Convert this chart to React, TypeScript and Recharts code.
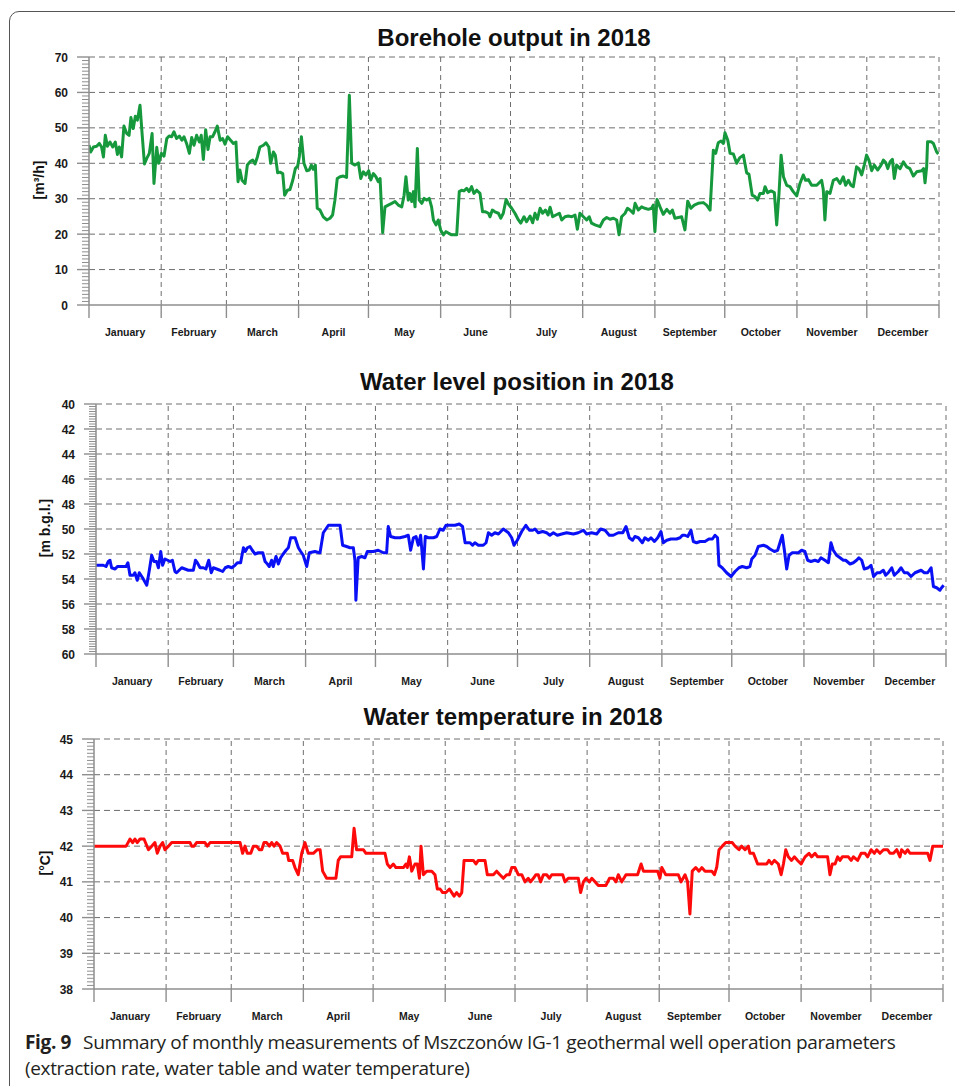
import React from 'react';
import { LineChart, Line, XAxis, YAxis, ReferenceLine } from 'recharts';

// months of 2018, x axis runs in day-of-year
const months = ['January', 'February', 'March', 'April', 'May', 'June', 'July', 'August', 'September', 'October', 'November', 'December'];
const monthStarts = [0, 31, 59, 90, 120, 151, 181, 212, 243, 273, 304, 334, 365];
const monthMids = months.map((_, i) => (monthStarts[i] + monthStarts[i + 1]) / 2);

const outputMajor = [0, 10, 20, 30, 40, 50, 60, 70];
const levelMajor = [40, 42, 44, 46, 48, 50, 52, 54, 56, 58, 60];
const tempMajor = [38, 39, 40, 41, 42, 43, 44, 45];

// [day of year, m3/h]
const boreholeOutput: [number, number][] = [
  [0, 45.1], [0.7, 43.2], [1.9, 44.6], [3.3, 44.8], [4.4, 45.6], [5.4, 44.6], [6.2, 41.8], [7.0, 47.9], [7.9, 44.8], [9.0, 46.0],
  [10.2, 44.6], [11.3, 46.0], [12.2, 42.5], [13.0, 44.6], [14.0, 41.8], [15.0, 50.5], [16.2, 48.4], [17.2, 47.9], [18.0, 52.9], [19.0, 49.8],
  [19.9, 53.3], [20.8, 52.2], [21.9, 56.4], [22.8, 48.4], [23.8, 39.8], [24.8, 41.4], [25.9, 42.8], [27.1, 48.4], [27.9, 34.3], [29.1, 44.5],
  [29.9, 40.0], [31.1, 42.8], [32.2, 42.0], [33.4, 47.0], [34.4, 47.7], [35.5, 47.5], [36.5, 48.9], [37.6, 47.0], [38.8, 47.7], [39.9, 46.5],
  [40.8, 47.5], [41.9, 45.6], [43.1, 42.8], [44.1, 47.3], [45.1, 45.1], [46.2, 47.9], [47.4, 46.0], [48.2, 47.9], [49.1, 41.1], [50.1, 49.5],
  [51.1, 43.9], [52.0, 47.5], [53.1, 47.5], [54.1, 48.9], [55.1, 50.5], [56.3, 46.5], [57.4, 47.0], [58.4, 45.4], [59.5, 47.5], [60.8, 46.5],
  [62.0, 45.6], [63.1, 46.0], [64.0, 34.8], [64.8, 38.1], [65.7, 35.2], [67.0, 34.3], [68.0, 39.5], [69.1, 40.4], [70.3, 40.9], [71.3, 39.8],
  [72.3, 41.8], [73.4, 44.6], [74.9, 45.1], [76.0, 45.8], [77.2, 44.6], [78.0, 40.0], [79.2, 43.2], [80.0, 42.3], [81.0, 37.3], [82.0, 37.5],
  [83.2, 37.1], [84.0, 31.0], [85.2, 32.4], [86.3, 32.6], [87.5, 35.2], [88.6, 38.5], [89.6, 39.2], [90.3, 41.8], [91.2, 47.5], [92.3, 40.0],
  [93.5, 37.9], [94.6, 38.1], [95.5, 39.5], [96.3, 38.3], [97.2, 39.5], [98.0, 27.3],
  [99.2, 26.8], [100.6, 24.9], [102.1, 24.0], [103.5, 24.5], [104.6, 25.4], [105.6, 29.6], [106.6, 35.7], [107.8, 36.2], [109.2, 36.4], [110.6, 36.0],
  [111.8, 59.2], [112.8, 40.0], [114.2, 39.5], [115.7, 40.1], [116.7, 35.7], [117.8, 37.6], [118.9, 36.7], [120.1, 37.9], [121.0, 35.3], [122.1, 37.1],
  [123.2, 36.2], [124.2, 34.8], [125.0, 35.7], [125.7, 25.9], [126.1, 20.4], [127.1, 27.7], [128.5, 28.2], [130.0, 28.7], [131.4, 29.2], [132.8, 28.2],
  [134.3, 27.7], [135.3, 31.0], [136.1, 36.2], [137.1, 29.6], [137.8, 31.5], [138.6, 29.2], [139.3, 32.0], [140.0, 27.7], [141.0, 44.2], [141.8, 29.6],
  [142.9, 28.7], [143.9, 30.1], [145.0, 29.6], [146.1, 30.1], [147.1, 27.7], [147.9, 24.0], [149.0, 22.6], [150.0, 24.0], [151.0, 21.2], [152.2, 19.8],
  [153.3, 20.7], [154.3, 20.3], [155.7, 19.8], [157.9, 19.8], [159.0, 32.0], [160.0, 32.4], [161.0, 32.2], [162.2, 32.9], [163.2, 32.0], [164.3, 33.4],
  [165.3, 31.5], [166.5, 32.4], [167.9, 31.5], [169.0, 26.3], [170.3, 26.3], [171.5, 25.9], [172.2, 24.9], [173.2, 26.8], [174.3, 26.3], [175.8, 25.9],
  [176.8, 24.5], [177.9, 25.9], [179.1, 29.8], [180.1, 28.5], [181.5, 27.3], [182.9, 25.9], [184.4, 24.0], [185.4, 23.1], [186.8, 24.9], [187.9, 23.5],
  [189.4, 25.1], [190.5, 23.2], [191.5, 25.9], [192.5, 24.2], [193.7, 27.3], [194.8, 25.9], [196.0, 26.8], [197.1, 25.4], [198.0, 27.6], [199.1, 24.9],
  [200.5, 25.4], [202.0, 25.9], [203.0, 24.0], [204.4, 24.9], [205.8, 25.1], [207.3, 24.9], [208.7, 25.4], [209.7, 21.4], [210.8, 25.9], [212.3, 24.9],
  [213.7, 24.0], [214.8, 24.9], [215.8, 23.1], [217.3, 22.6], [219.4, 22.1], [220.9, 24.0], [222.3, 24.7], [223.7, 24.2], [225.2, 24.5], [226.6, 24.0],
  [227.6, 19.8], [228.7, 24.9], [230.2, 25.9], [231.2, 27.3], [232.3, 26.8], [233.7, 25.9],
  [234.5, 28.7], [235.9, 26.8], [237.3, 27.7], [238.7, 27.3], [240.2, 27.0], [241.6, 27.3], [242.3, 28.2], [243.0, 20.7], [243.9, 29.8], [245.2, 27.7],
  [246.6, 25.6], [248.1, 27.0], [249.5, 25.9], [250.5, 26.8], [251.6, 24.5], [253.1, 24.7], [254.5, 24.9], [255.9, 21.2], [257.1, 29.3], [258.5, 27.3],
  [259.9, 28.2], [261.6, 28.7], [263.8, 28.9], [265.2, 28.2], [266.7, 26.8], [268.1, 43.7], [269.1, 42.8], [270.2, 45.8], [271.4, 46.3], [272.4, 45.6],
  [273.1, 48.6], [274.3, 46.5], [275.3, 42.8], [276.7, 42.6], [278.1, 40.0], [279.5, 41.6], [281.0, 42.3], [282.4, 37.3], [283.4, 36.9], [284.8, 31.0],
  [286.0, 30.6], [287.1, 29.6], [288.1, 31.5], [289.6, 31.5], [290.3, 33.4], [291.4, 31.7], [292.9, 32.2], [294.3, 31.7], [295.3, 22.6], [296.3, 31.5],
  [297.2, 42.3], [298.2, 36.2], [299.6, 33.8], [301.0, 33.4], [302.4, 32.0], [303.9, 30.8], [305.3, 34.3], [306.7, 36.7], [307.7, 35.2], [308.9, 35.4],
  [310.3, 33.8], [312.5, 33.8], [314.6, 35.2], [315.3, 32.6], [316.0, 24.0], [316.8, 32.0], [318.2, 31.5], [319.6, 35.2], [321.1, 35.7], [322.5, 34.3],
  [323.9, 36.2], [324.9, 33.8], [326.1, 35.2], [327.2, 33.8], [328.2, 33.4], [329.6, 39.0], [330.6, 38.5], [331.8, 36.7], [332.9, 39.5], [333.9, 42.3],
  [334.9, 40.9], [336.1, 37.9], [337.2, 39.5], [338.7, 38.1], [340.1, 39.5], [341.1, 40.9], [342.1, 40.2], [343.0, 38.5], [344.0, 40.4], [345.0, 41.1],
  [345.8, 35.7], [346.8, 39.5], [348.3, 38.5], [349.7, 40.4], [351.1, 39.0], [352.5, 38.5], [354.0, 36.4], [355.4, 37.6], [357.6, 37.9], [358.4, 38.5],
  [359.0, 34.5], [359.7, 39.0], [360.1, 46.1], [361.6, 46.1], [362.6, 45.6], [364.0, 43.2], [364.7, 42.6],
];

// [day of year, m below ground level]
const waterLevel: [number, number][] = [
  [0, 52.9], [1.7, 52.9], [3.1, 52.9], [4.3, 53.0], [5.3, 52.6], [6.0, 52.5], [6.7, 53.1], [8.2, 53.2], [9.2, 53.0], [11.0, 53.0],
  [12.9, 53.0], [13.7, 52.7], [14.6, 53.7], [16.0, 53.7], [16.7, 53.5], [17.7, 54.1], [18.6, 53.5], [20.0, 53.9], [21.8, 54.5], [22.9, 53.3],
  [23.9, 52.1], [24.9, 52.6], [26.0, 52.6], [26.8, 53.1], [27.8, 51.8], [28.6, 52.9], [29.6, 52.4], [30.8, 52.5], [31.8, 52.6], [32.8, 52.5],
  [33.9, 53.4], [34.6, 53.5], [36.8, 53.1], [38.2, 53.2], [39.6, 53.3], [41.1, 53.3], [41.8, 53.3], [42.7, 52.5], [43.5, 52.7], [44.7, 53.1],
  [46.1, 53.1], [47.2, 53.2], [48.4, 52.5], [49.5, 53.5], [50.4, 53.1], [51.8, 53.2], [53.2, 53.3], [54.4, 53.4], [55.5, 53.1], [56.8, 53.0],
  [58.3, 53.1], [59.7, 52.9], [60.7, 52.7], [62.1, 52.7], [63.3, 51.5], [64.1, 51.8], [65.0, 51.5], [66.1, 51.4], [67.1, 51.7], [68.3, 52.0],
  [69.7, 51.9], [71.6, 51.9], [72.6, 52.6], [73.6, 52.8], [74.4, 53.0], [75.4, 52.5], [76.1, 53.0], [77.3, 52.2], [78.3, 52.8], [79.3, 52.3],
  [80.4, 52.0], [81.6, 51.7], [82.6, 51.5], [83.6, 50.7], [85.5, 50.7], [86.9, 51.5], [87.9, 51.8], [89.0, 52.1], [90.5, 53.0], [91.6, 51.9],
  [94.0, 51.8], [95.9, 51.9],
  [96.2, 51.9], [97.6, 50.3], [99.8, 49.7], [101.9, 49.7], [104.8, 49.7], [105.9, 51.3], [107.6, 51.4], [109.1, 51.5], [110.5, 51.5], [111.2, 52.5],
  [111.6, 55.7], [112.6, 52.3], [114.1, 52.2], [115.5, 52.3], [116.5, 51.8], [119.1, 51.8], [121.2, 51.7], [123.4, 51.9], [124.8, 51.9], [125.5, 49.8],
  [126.5, 50.6], [128.4, 50.7], [130.5, 50.7], [132.7, 50.6], [134.1, 50.5], [135.1, 51.7], [136.3, 50.7], [137.4, 50.6], [138.4, 51.3], [139.4, 50.5],
  [140.6, 53.2], [141.4, 50.6], [142.7, 50.7], [144.9, 50.7], [146.3, 50.6], [147.7, 50.0], [149.1, 50.1], [150.3, 49.7], [152.7, 49.7], [154.2, 49.7],
  [156.0, 49.6], [157.4, 49.8], [158.5, 51.1], [160.6, 51.1], [161.7, 51.3], [162.7, 51.1], [164.2, 51.3], [166.3, 51.3], [167.5, 51.1], [168.5, 50.3],
  [169.9, 50.5], [171.3, 50.3], [172.8, 50.4], [174.9, 50.0], [177.1, 50.3], [178.5, 50.7], [179.5, 51.3], [180.9, 50.9], [182.8, 50.2], [184.6, 49.7],
  [186.1, 50.1], [187.5, 50.1], [188.5, 50.0], [189.9, 50.3], [191.8, 50.2], [193.5, 50.3], [194.9, 50.5], [196.4, 50.3], [198.1, 50.5], [200.0, 50.4],
  [202.1, 50.3], [205.0, 50.4], [207.1, 50.3], [209.3, 50.1], [210.7, 50.4], [212.8, 50.3], [215.0, 50.4], [216.7, 50.0], [218.6, 50.1], [220.4, 50.5],
  [222.1, 50.5], [224.3, 50.3], [226.2, 50.3], [227.6, 49.8], [229.0, 50.7], [230.4, 50.9],
  [231.4, 50.6], [232.9, 50.7], [234.6, 51.1], [235.7, 50.7], [237.2, 50.9], [238.3, 50.7], [239.8, 51.0], [241.2, 50.7], [242.6, 50.2], [243.6, 51.1],
  [245.1, 50.9], [246.9, 50.8], [249.3, 50.8], [250.8, 50.7], [251.8, 50.5], [252.9, 50.5], [254.1, 50.6], [255.5, 50.1], [256.5, 51.0], [257.9, 51.1],
  [259.4, 51.0], [261.5, 51.0], [263.2, 50.8], [264.7, 50.8], [265.8, 50.5], [266.9, 50.7], [267.5, 52.9], [268.9, 53.1], [270.8, 53.5], [272.7, 53.8],
  [274.4, 53.4], [276.1, 53.1], [277.5, 53.0], [279.4, 53.1], [280.8, 53.0], [281.6, 52.4], [283.0, 52.1], [284.4, 51.4], [286.6, 51.3], [288.0, 51.4],
  [289.4, 51.6], [291.3, 51.8], [292.7, 51.7], [293.7, 51.1], [294.7, 50.5], [295.6, 51.7], [296.6, 53.2], [297.6, 52.1], [299.0, 51.9], [301.6, 51.9],
  [303.0, 51.7], [304.4, 51.8], [305.6, 52.5], [307.0, 52.6], [308.7, 52.5], [310.2, 52.6], [311.3, 52.3], [313.0, 52.5], [314.5, 52.7], [315.6, 51.1],
  [316.6, 51.7], [318.0, 52.1], [319.5, 52.3], [320.9, 52.5], [321.9, 52.5], [323.8, 52.8], [325.2, 52.7], [326.6, 52.5], [327.6, 52.3], [328.8, 52.5],
  [329.9, 53.2], [331.6, 53.1], [332.8, 52.9], [333.9, 53.8], [335.4, 53.5], [336.6, 53.5], [338.1, 53.3], [339.1, 53.7], [340.2, 53.5], [341.7, 53.1],
  [342.8, 53.7], [344.5, 53.4], [345.7, 53.1], [347.1, 53.5], [348.5, 53.5], [350.0, 53.8], [351.7, 53.5], [354.3, 53.3], [355.7, 53.5], [357.1, 53.5],
  [358.6, 53.1], [359.6, 54.6], [361.0, 54.7], [362.4, 54.9], [363.1, 54.7], [364.0, 54.5],
];

// [day of year, degrees C]
const waterTemp: [number, number][] = [
  [0, 42.0], [13.8, 42.0], [15.5, 42.2], [16.6, 42.1], [17.6, 42.2], [18.6, 42.1], [19.8, 42.2], [21.5, 42.2], [23.4, 41.9], [24.8, 42.0],
  [26.2, 42.1], [27.2, 41.8], [28.4, 42.0], [29.5, 42.1], [30.5, 41.9], [32.0, 42.0], [33.4, 42.1], [41.3, 42.1], [42.0, 42.0], [43.0, 42.0],
  [44.1, 42.1], [47.7, 42.1], [48.7, 42.0], [49.9, 42.1], [62.8, 42.1], [63.9, 41.8], [64.9, 42.0], [65.9, 41.8], [67.4, 41.8], [68.5, 42.0],
  [69.9, 42.0], [71.1, 41.9], [72.1, 41.9], [73.1, 42.1], [74.2, 42.1], [75.4, 42.0], [76.4, 42.1], [77.4, 42.0], [78.5, 42.1], [80.0, 42.0],
  [81.1, 41.8], [82.3, 41.8], [83.1, 41.8], [83.7, 41.6], [85.4, 41.6], [86.4, 41.4], [87.8, 41.2], [89.3, 41.8], [90.7, 42.1], [92.1, 41.8],
  [94.3, 41.8], [96.0, 41.9],
  [97.2, 41.9], [98.3, 41.3], [100.0, 41.1], [104.0, 41.1], [105.0, 41.6], [106.0, 41.7], [110.8, 41.7], [111.8, 42.5], [112.9, 41.9], [115.8, 41.9],
  [116.9, 41.8], [125.1, 41.8], [126.1, 41.5], [127.3, 41.4], [128.7, 41.5], [129.8, 41.4], [133.0, 41.4], [134.1, 41.5], [134.7, 41.4], [135.6, 41.7],
  [136.6, 41.3], [138.0, 41.5], [139.0, 41.5], [139.9, 41.1], [140.6, 42.0], [141.6, 41.2], [143.0, 41.3], [145.2, 41.3], [146.6, 41.2], [147.6, 40.8],
  [148.8, 40.8], [149.9, 40.7], [151.3, 40.7], [152.8, 40.8], [153.8, 40.7], [154.8, 40.6], [155.9, 40.7], [157.1, 40.6], [158.1, 40.7], [159.1, 41.6],
  [163.1, 41.6], [164.2, 41.5], [165.2, 41.6], [168.1, 41.6], [169.1, 41.2], [171.7, 41.2], [173.1, 41.3], [174.5, 41.2], [176.0, 41.1], [177.4, 41.2],
  [178.6, 41.2], [179.6, 41.4], [181.0, 41.4], [182.4, 41.2], [183.9, 41.2], [185.3, 41.0], [186.7, 41.1], [187.7, 41.0], [188.9, 41.1], [190.0, 41.2],
  [191.0, 41.2], [192.0, 41.0], [193.2, 41.2], [194.6, 41.2], [195.8, 41.1], [196.8, 41.2], [198.2, 41.2], [199.2, 41.2], [200.3, 41.2], [201.5, 41.2],
  [202.5, 41.0], [203.9, 41.1], [208.2, 41.1], [209.2, 40.7], [210.4, 41.0], [211.5, 41.1], [213.0, 41.0], [214.0, 41.1], [215.4, 41.0], [216.8, 40.9],
  [220.1, 40.9], [221.6, 41.1], [223.3, 41.1], [224.4, 41.0], [225.4, 41.2], [226.9, 41.0], [228.7, 41.2], [232.6, 41.2],
  [233.7, 41.2], [235.2, 41.5], [236.2, 41.3], [238.3, 41.3], [242.3, 41.3], [243.3, 41.1], [244.1, 41.4], [245.8, 41.2], [248.4, 41.2], [251.2, 41.2],
  [252.4, 41.0], [254.1, 41.2], [255.2, 41.0], [256.2, 40.1], [257.2, 41.3], [258.7, 41.4], [260.1, 41.3], [261.3, 41.4], [262.7, 41.3], [265.6, 41.3],
  [266.7, 41.2], [267.7, 41.4], [268.7, 41.9], [270.1, 42.0], [271.6, 42.1], [272.7, 42.1], [274.4, 42.1], [275.6, 42.0], [277.3, 41.9], [278.4, 42.0],
  [279.9, 41.9], [281.3, 42.0], [282.0, 41.8], [283.5, 41.8], [285.3, 41.5], [289.2, 41.5], [290.2, 41.6], [291.3, 41.5], [292.5, 41.6], [294.2, 41.5],
  [295.4, 41.2], [296.4, 41.5], [297.4, 41.9], [298.5, 41.7], [299.9, 41.6], [301.1, 41.7], [302.5, 41.6], [304.0, 41.5], [305.7, 41.7], [307.4, 41.8],
  [308.5, 41.7], [310.0, 41.8], [311.1, 41.7], [312.8, 41.7], [315.4, 41.7], [316.4, 41.2], [317.4, 41.5], [318.6, 41.5], [319.7, 41.7], [320.7, 41.6],
  [321.7, 41.7], [324.3, 41.7], [325.5, 41.6], [326.5, 41.7], [328.3, 41.6], [329.8, 41.8], [331.5, 41.8], [332.6, 41.7], [334.1, 41.9], [335.5, 41.8],
  [336.5, 41.9], [337.9, 41.8], [339.4, 41.9], [341.2, 41.9], [342.2, 41.8], [343.7, 41.8], [345.1, 41.9], [346.5, 41.7], [347.2, 41.9], [348.7, 41.8],
  [349.8, 41.9], [350.8, 41.8], [353.0, 41.8], [358.4, 41.8], [359.4, 41.6], [360.6, 42.0], [365, 42.0],
];

const GRID = '#6e6e6e';
const AXIS = '#8e8e8e';
const TEXT = '#1a1a1a';

// minor ruler ticks along the y axis
function ruler(from: number, to: number, step: number) {
  const n = Math.round((to - from) / step);
  return Array.from({ length: n + 1 }, (_, i) => +(from + i * step).toFixed(3));
}

function AxisTick(props: any) {
  const { x, y, payload, majors } = props;
  const value = payload.value;
  const isMajor = majors.some((m: number) => Math.abs(m - value) < 1e-6);
  return (
    <g>
      <line x1={x - (isMajor ? 12 : 7)} x2={x} y1={y} y2={y} stroke={AXIS} strokeWidth={isMajor ? 1.4 : 1} />
      {isMajor && (
        <text x={x - 21} y={y + 4.5} textAnchor="end" fontSize={12} fontWeight={700} fill={TEXT}>
          {value}
        </text>
      )}
    </g>
  );
}

interface PanelProps {
  top: number;
  height: number;
  marginTop: number;
  axisWidth: number;
  marginRight: number;
  series: [number, number][];
  domain: [number, number];
  majors: number[];
  minorStep: number;
  reversed?: boolean;
  color: string;
}

function Panel({ top, height, marginTop, axisWidth, marginRight, series, domain, majors, minorStep, reversed, color }: PanelProps) {
  const rows = series.map(([day, v]) => ({ day, v }));
  const bottomValue = reversed ? domain[1] : domain[0];
  return (
    <div style={{ position: 'absolute', left: 0, top }}>
      <LineChart width={955} height={height} data={rows} margin={{ top: marginTop, right: marginRight, bottom: 0, left: 0 }}>
        {monthStarts.slice(1).map((d) => (
          <ReferenceLine key={'x' + d} x={d} stroke={GRID} strokeDasharray="5 4" />
        ))}
        {majors
          .filter((v) => v !== bottomValue)
          .map((v) => (
            <ReferenceLine key={'y' + v} y={v} stroke={GRID} strokeDasharray="6 4" />
          ))}
        <XAxis
          dataKey="day"
          type="number"
          domain={[0, 365]}
          ticks={monthStarts}
          interval={0}
          tickFormatter={() => ''}
          tickSize={13}
          height={12}
          axisLine={{ stroke: AXIS, strokeWidth: 1.5 }}
          tickLine={{ stroke: AXIS, strokeWidth: 1.4 }}
          allowDataOverflow
        />
        <XAxis
          xAxisId="months"
          dataKey="day"
          type="number"
          domain={[0, 365]}
          ticks={monthMids}
          interval={0}
          tickFormatter={(v: number) => months[monthMids.indexOf(v)]}
          axisLine={false}
          tickLine={false}
          tickSize={0}
          tickMargin={12}
          height={28}
          tick={{ fontSize: 10.5, fontWeight: 700, fill: TEXT }}
        />
        <YAxis
          type="number"
          domain={domain}
          reversed={reversed}
          ticks={ruler(domain[0], domain[1], minorStep)}
          interval={0}
          width={axisWidth}
          tickLine={false}
          tickSize={0}
          tickMargin={0}
          axisLine={{ stroke: AXIS, strokeWidth: 1.5 }}
          tick={(p: any) => <AxisTick {...p} majors={majors} />}
          allowDataOverflow
        />
        <Line dataKey="v" type="linear" stroke={color} strokeWidth={3} dot={false} isAnimationActive={false} strokeLinejoin="round" />
      </LineChart>
    </div>
  );
}

const titleStyle: React.CSSProperties = {
  position: 'absolute',
  width: 600,
  textAlign: 'center',
  fontSize: 24,
  lineHeight: '24px',
  fontWeight: 700,
  color: '#111',
  whiteSpace: 'nowrap',
};

const yLabelStyle: React.CSSProperties = {
  position: 'absolute',
  transform: 'translate(-50%, -50%) rotate(-90deg)',
  fontSize: 14,
  fontWeight: 700,
  color: '#111',
  whiteSpace: 'nowrap',
};

export default function App() {
  return (
    <div
      style={{
        position: 'absolute',
        left: 0,
        top: 0,
        width: 955,
        height: 1086,
        overflow: 'hidden',
        background: '#fff',
        fontFamily: '"Liberation Sans", Arial, sans-serif',
      }}
    >
      <div
        style={{
          position: 'absolute',
          left: 9,
          top: 11,
          width: 1000,
          height: 1200,
          border: '1.5px solid #555',
          borderTopLeftRadius: 10,
        }}
      />

      <Panel top={0} height={345} marginTop={57} axisWidth={89} marginRight={16} series={boreholeOutput} domain={[0, 70]} majors={outputMajor} minorStep={1} color="#16993c" />
      <Panel top={350} height={344} marginTop={54} axisWidth={96} marginRight={9} series={waterLevel} domain={[40, 60]} majors={levelMajor} minorStep={0.2} reversed color="#0a10f5" />
      <Panel top={694} height={335} marginTop={45} axisWidth={94} marginRight={12} series={waterTemp} domain={[38, 45]} majors={tempMajor} minorStep={0.1} color="#ff0a0a" />

      <div style={{ ...titleStyle, left: 514 - 300, top: 26 }}>Borehole output in 2018</div>
      <div style={{ ...titleStyle, left: 517 - 300, top: 370 }}>Water level position in 2018</div>
      <div style={{ ...titleStyle, left: 513 - 300, top: 705 }}>Water temperature in 2018</div>

      <div style={{ ...yLabelStyle, left: 38.5, top: 180 }}>[m³/h]</div>
      <div style={{ ...yLabelStyle, left: 45, top: 528 }}>[m b.g.l.]</div>
      <div style={{ ...yLabelStyle, left: 45, top: 863 }}>[°C]</div>

      <div
        style={{
          position: 'absolute',
          left: 25,
          top: 1029,
          fontFamily: '"Open Sans", sans-serif',
          fontSize: 19,
          lineHeight: '26px',
          color: '#231f20',
          letterSpacing: -0.35,
          whiteSpace: 'nowrap',
        }}
      >
        <div>
          <b style={{ marginRight: 12 }}>Fig. 9</b>Summary of monthly measurements of Mszczonów IG-1 geothermal well operation parameters
        </div>
        <div>(extraction rate, water table and water temperature)</div>
      </div>
    </div>
  );
}
